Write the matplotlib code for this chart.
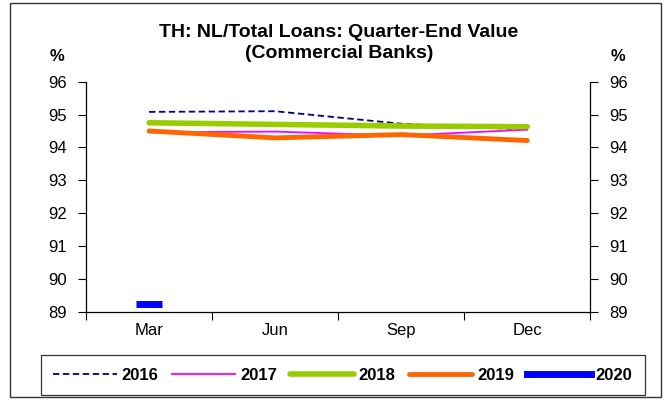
import matplotlib.pyplot as plt
from matplotlib.patches import Rectangle
import numpy as np

quarters = ["Mar", "Jun", "Sep", "Dec"]
nl_2016 = [95.08, 95.10, 94.72, 94.54]
nl_2017 = [94.46, 94.48, 94.36, 94.54]
nl_2018 = [94.75, 94.70, 94.65, 94.63]
nl_2019 = [94.50, 94.29, 94.39, 94.21]
nl_2020 = [89.24]

plt.rcParams["font.family"] = ["Liberation Sans", "DejaVu Sans"]

fig = plt.figure(figsize=(6.67, 4.0), dpi=100)
ax = fig.add_axes([0.129, 0.22, 0.756, 0.576])

x = np.arange(len(quarters))
ln1 = ax.plot(x, nl_2016, color="#000080", lw=1.3, ls=(0, (3.5, 2)), label="2016")
ln2 = ax.plot(x, nl_2017, color="#FF00FF", lw=1.3, label="2017")
ln3 = ax.plot(x, nl_2018, color="#99CC00", lw=4, solid_capstyle="round", label="2018")
ln4 = ax.plot(x, nl_2019, color="#FF6600", lw=3.5, solid_capstyle="round", label="2019")
ln5 = ax.plot(x[:len(nl_2020)], nl_2020, color="#0000FF", lw=4, marker="_",
              markersize=19, markeredgewidth=5, ls="none", label="2020")

ax.set_xlim(-0.5, 3.5)
ax.set_ylim(89, 96)
ax.set_yticks(range(89, 97))
ax.set_xticks(np.arange(-0.5, 4, 1))
ax.set_xticklabels([])
ax.set_xticks(x, minor=True)
ax.set_xticklabels(quarters, minor=True, fontsize=12)
ax.tick_params(axis="x", which="major", length=6, direction="out")
ax.tick_params(axis="x", which="minor", length=0, pad=8)
ax.tick_params(axis="y", which="both", length=6, direction="out", labelsize=12, pad=8,
               left=True, right=True, labelleft=True, labelright=True)
ax.spines["top"].set_visible(False)
for s in ["left", "right", "bottom"]:
    ax.spines[s].set_linewidth(0.9)

ax.text(-0.058, 1.107, "%", transform=ax.transAxes, fontsize=12, fontweight="bold",
        ha="center", va="center")
ax.text(1.054, 1.107, "%", transform=ax.transAxes, fontsize=12, fontweight="bold",
        ha="center", va="center")

fig.text(0.508, 0.892, "TH: NL/Total Loans: Quarter-End Value\n(Commercial Banks)",
         ha="center", va="center", fontsize=14, fontweight="bold", linespacing=1.3)

lns = ln1 + ln2 + ln3 + ln4 + ln5
labels = [l.get_label() for l in lns]
leg = fig.legend(lns, labels, loc="center", bbox_to_anchor=(0.514, 0.0625), ncol=5,
                 frameon=True, fancybox=False, edgecolor="black", handlelength=3.8,
                 columnspacing=0.8, handletextpad=0.3, borderpad=0.75, borderaxespad=0,
                 prop={"weight": "bold", "size": 12})
leg.get_frame().set_linewidth(0.9)
leg.legend_handles[4].set_linestyle("-")
leg.legend_handles[4].set_marker("")
leg.legend_handles[4].set_linewidth(5)

fig.patches.append(Rectangle((10 / 667, 3 / 400), 651 / 667, 394 / 400, transform=fig.transFigure,
                             fill=False, edgecolor="#333333", lw=1.0))

fig.savefig("out.png", dpi=100)
